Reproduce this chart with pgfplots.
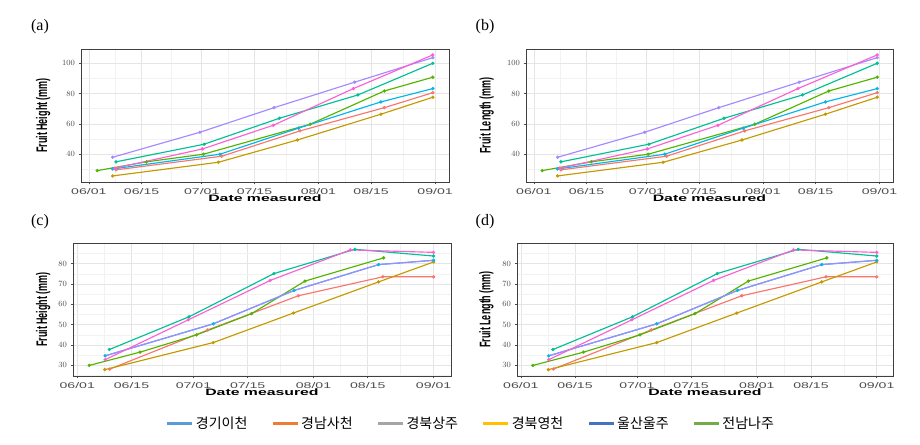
\documentclass[border=0pt]{standalone}
\usepackage{fontspec}
\setmainfont{Liberation Sans}
\newfontfamily\wide{Liberation Sans}[FakeStretch=1.7]
\newfontfamily\kr{Noto Sans CJK KR}
\newfontfamily\ser{Liberation Serif}
\usepackage{graphicx}
\usepackage{pgfplots}
\usepackage{pgfplotstable}
\pgfplotsset{compat=1.18}

\definecolor{cR}{HTML}{F8766D}
\definecolor{cY}{HTML}{C49A00}
\definecolor{cG}{HTML}{53B400}
\definecolor{cT}{HTML}{00C094}
\definecolor{cB}{HTML}{00B6EB}
\definecolor{cP}{HTML}{A58AFF}
\definecolor{cK}{HTML}{FB61D7}
\definecolor{lgA}{HTML}{5B9BD5}
\definecolor{lgB}{HTML}{ED7D31}
\definecolor{lgC}{HTML}{A5A5A5}
\definecolor{lgD}{HTML}{FFC000}
\definecolor{lgE}{HTML}{4472C4}
\definecolor{lgF}{HTML}{70AD47}

% ---- panels (a),(b): x = days since 06/01
\pgfplotstableread{
x y
6.3 38.0
29.5 54.5
49.2 70.7
70.6 87.5
91.4 103.7
}\Apurple
\pgfplotstableread{
x y
6.9 30.8
30.2 43.5
49.0 59.1
70.3 83.3
91.4 105.5
}\Apink
\pgfplotstableread{
x y
7.2 35.0
30.6 46.6
50.6 63.7
71.5 79.1
91.4 100.0
}\Ateal
\pgfplotstableread{
x y
2.2 29.2
15.3 35.0
30.4 40.0
58.8 59.8
78.5 81.7
91.4 90.8
}\Agreen
\pgfplotstableread{
x y
6.3 30.3
34.8 40.0
55.7 57.2
77.6 74.5
91.4 83.3
}\Ablue
\pgfplotstableread{
x y
7.2 29.7
35.3 38.7
56.1 55.4
78.5 70.7
91.4 80.6
}\Ared
\pgfplotstableread{
x y
6.3 25.7
34.4 34.7
55.4 49.4
77.6 66.4
91.4 77.6
}\Ayellow

% ---- panels (c),(d)
\pgfplotstableread{
x y
8.3 37.8
28.9 53.9
50.8 75.1
71.7 87.0
92.0 83.7
}\Cteal
\pgfplotstableread{
x y
7.2 32.8
28.7 52.4
49.8 71.7
70.5 86.7
92.0 85.5
}\Cpink
\pgfplotstableread{
x y
7.2 34.7
35.1 50.4
56.0 66.8
77.8 79.5
92.0 81.6
}\Cblue
\pgfplotstableread{
x y
3.1 30.0
16.2 36.5
30.8 45.0
45.0 55.4
58.8 71.4
79.1 82.8
}\Cgreen
\pgfplotstableread{
x y
8.4 28.2
33.7 47.4
57.1 64.2
78.9 73.5
92.0 73.5
}\Cred
\pgfplotstableread{
x y
7.1 27.9
35.1 41.2
55.8 55.7
77.8 71.0
92.0 80.8
}\Cyellow

\pgfplotsset{
  panel/.style={
    scale only axis, height=133pt,
    axis line style={draw=black!75, line width=0.8pt},
    xtick={0,14,30,44,61,75,92},
    xticklabels={06/01,06/15,07/01,07/15,08/01,08/15,09/01},
    minor xtick={7,22,37,52.5,68,83.5},
    grid=both,
    major grid style={draw=black!10, line width=0.7pt},
    minor grid style={draw=black!5, line width=0.5pt},
    tick align=outside, xtick pos=bottom, ytick pos=left,
    major tick length=2.5pt, minor tick length=0pt,
    tick style={draw=black!70, line width=0.6pt},
    tick label style={font=\wide\fontsize{8.3}{9}\selectfont, text=black!70},
    xlabel={Date measured},
    xlabel style={font=\wide\bfseries\fontsize{9.3}{10}\selectfont, at={(axis description cs:0.5,0)}, anchor=center, yshift=-16.5pt},
    ylabel style={font=\bfseries\fontsize{9}{10}\selectfont, anchor=center},
  },
  ln/.style={line width=1.15pt, no marks},
  mk/.style={only marks, mark=*, mark size=1.5pt},
}

\newcommand{\plotA}{%
  \addplot[ln, cR] table {\Ared};
  \addplot[ln, cY] table {\Ayellow};
  \addplot[ln, cG] table {\Agreen};
  \addplot[ln, cT] table {\Ateal};
  \addplot[ln, cB] table {\Ablue};
  \addplot[ln, cP] table {\Apurple};
  \addplot[ln, cK] table {\Apink};
  \addplot[mk, cR] table {\Ared};
  \addplot[mk, cY] table {\Ayellow};
  \addplot[mk, cG] table {\Agreen};
  \addplot[mk, cT] table {\Ateal};
  \addplot[mk, cB] table {\Ablue};
  \addplot[mk, cP] table {\Apurple};
  \addplot[mk, cK] table {\Apink};
}
\newcommand{\plotC}{%
  \addplot[ln, cR] table {\Cred};
  \addplot[ln, cY] table {\Cyellow};
  \addplot[ln, cG] table {\Cgreen};
  \addplot[ln, cT] table {\Cteal};
  \addplot[ln, cB] table {\Cblue};
  \addplot[ln, cP] table {\Cblue};
  \addplot[ln, cK] table {\Cpink};
  \addplot[mk, cR] table {\Cred};
  \addplot[mk, cY] table {\Cyellow};
  \addplot[mk, cG] table {\Cgreen};
  \addplot[mk, cT] table {\Cteal};
  \addplot[mk, cB] table {\Cblue};
  \addplot[mk, cK] table {\Cpink};
}

\begin{document}
\begin{tikzpicture}
\useasboundingbox (0pt,0pt) rectangle (920pt,444pt);

% (a)
\begin{axis}[panel, at={(81pt,395pt)}, anchor=north west, width=368pt,
  xmin=-2.1, xmax=95.7, ymin=21.7, ymax=109.4,
  ytick={40,60,80,100}, minor ytick={30,50,70,90},
  ylabel={\scalebox{1}[1.7]{Fruit Height (mm)}},
  ylabel style={at={(axis description cs:-0.103,0.5)}}]
\plotA
\end{axis}

% (b)
\begin{axis}[panel, at={(526pt,395pt)}, anchor=north west, width=367pt,
  xmin=-2.1, xmax=95.6, ymin=21.7, ymax=109.4,
  ytick={40,60,80,100}, minor ytick={30,50,70,90},
  ylabel={\scalebox{1}[1.7]{Fruit Length (mm)}},
  ylabel style={at={(axis description cs:-0.107,0.5)}}]
\plotA
\end{axis}

% (c)
\begin{axis}[panel, at={(73pt,201pt)}, anchor=north west, width=378pt,
  xmin=-1.1, xmax=96.5, ymin=24.8, ymax=90.1,
  ytick={30,40,50,60,70,80}, minor ytick={25,35,45,55,65,75,85},
  ylabel={\scalebox{1}[1.7]{Fruit Height (mm)}},
  ylabel style={at={(axis description cs:-0.079,0.5)}}]
\plotC
\end{axis}

% (d)
\begin{axis}[panel, at={(517pt,201pt)}, anchor=north west, width=376pt,
  xmin=-1.0, xmax=96.2, ymin=24.8, ymax=90.1,
  ytick={30,40,50,60,70,80}, minor ytick={25,35,45,55,65,75,85},
  ylabel={\scalebox{1}[1.7]{Fruit Length (mm)}},
  ylabel style={at={(axis description cs:-0.081,0.5)}}]
\plotC
\end{axis}

% panel letters
\node[font=\ser\fontsize{16}{18}\selectfont] at (40pt,417pt) {(a)};
\node[font=\ser\fontsize{16}{18}\selectfont] at (485pt,417pt) {(b)};
\node[font=\ser\fontsize{16}{18}\selectfont] at (40pt,222pt) {(c)};
\node[font=\ser\fontsize{16}{18}\selectfont] at (485pt,222pt) {(d)};

% legend
\begin{axis}[at={(0pt,0pt)}, anchor=south west, scale only axis,
  width=920pt, height=444pt, hide axis,
  xmin=0, xmax=1, ymin=0, ymax=1,
  legend columns=6,
  legend style={draw=none, fill=none, anchor=center, at={(0.512,0.047)},
    font=\kr\fontsize{14}{15}\selectfont,
    /tikz/every even column/.append style={column sep=22pt}},
  legend image code/.code={\draw[#1, line width=2.8pt] (0pt,0pt) -- (25pt,0pt);}]
\addlegendimage{lgA}\addlegendentry{경기이천}
\addlegendimage{lgB}\addlegendentry{경남사천}
\addlegendimage{lgC}\addlegendentry{경북상주}
\addlegendimage{lgD}\addlegendentry{경북영천}
\addlegendimage{lgE}\addlegendentry{울산울주}
\addlegendimage{lgF}\addlegendentry{전남나주}
\end{axis}
\end{tikzpicture}
\end{document}
